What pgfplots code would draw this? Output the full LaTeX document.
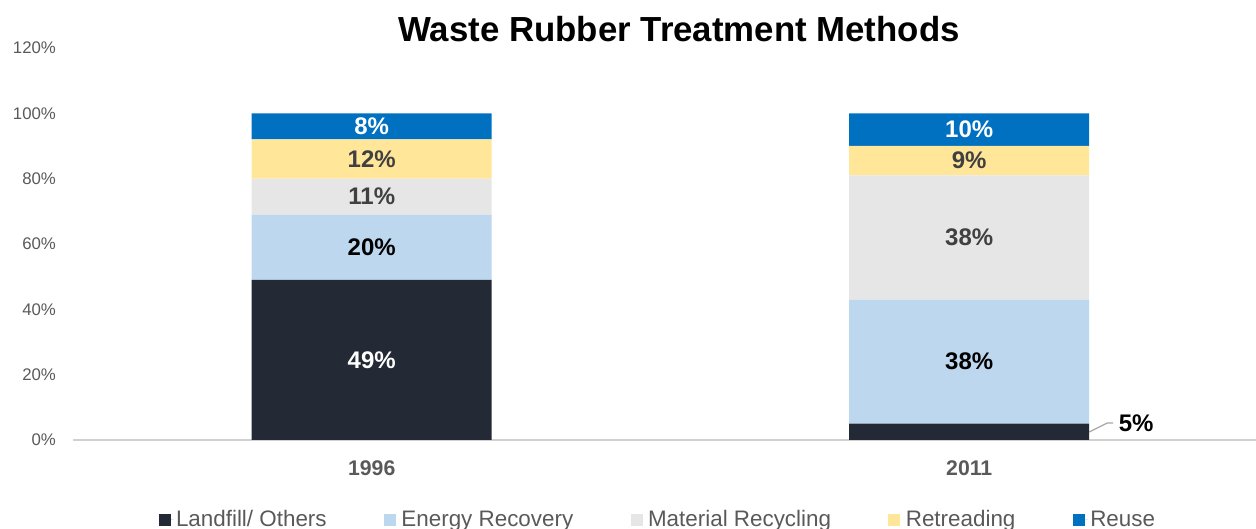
\documentclass[border=0pt]{standalone}
\usepackage{pgfplots}
\pgfplotsset{compat=1.18}
\usepackage{fontspec}
\setmainfont{Liberation Sans}
\definecolor{cLand}{HTML}{232A35}
\definecolor{cEnergy}{HTML}{BDD7EE}
\definecolor{cMat}{HTML}{E6E6E6}
\definecolor{cRet}{HTML}{FFE699}
\definecolor{cReuse}{HTML}{0070C0}
\definecolor{cTick}{HTML}{595959}
\definecolor{cDark}{HTML}{404040}
\begin{document}
\begin{tikzpicture}
\useasboundingbox (0,0) rectangle (628pt,264.5pt);
\begin{axis}[
  at={(36.5pt,44.5pt)}, anchor=south west,
  scale only axis, width=591.5pt, height=196pt,
  ybar stacked, bar width=120pt,
  xmin=-0.5, xmax=1.48, ymin=0, ymax=120,
  enlargelimits=false, clip=false,
  xtick={0,1}, xticklabels={1996,2011},
  ytick={0,20,40,60,80,100,120},
  yticklabel={\pgfmathprintnumber{\tick}\%},
  /pgf/number format/assume math mode=true,
  axis lines*=left,
  y axis line style={draw=none},
  x axis line style={draw=cMat!80!gray, line width=0.8pt},
  major tick length=0pt,
  yticklabel style={font=\fontsize{8.4}{10}\selectfont, text=cTick, xshift=-5pt},
  xticklabel style={font=\fontsize{10.6}{12}\selectfont\bfseries, text=cTick, yshift=-7pt},
  title={Waste Rubber Treatment Methods},
  title style={at={(0.5123,0.9847)}, anchor=base, font=\fontsize{17.4}{20}\selectfont\bfseries},
  point meta=explicit symbolic,
  nodes near coords={\pgfplotspointmeta},
  every node near coord/.append style={anchor=center, font=\fontsize{12}{14}\selectfont\bfseries},
  legend columns=5,
  legend style={at={(0.4945,-0.204)}, anchor=center, draw=none, fill=none,
    font=\fontsize{11.2}{13}\selectfont, text=cTick,
    nodes={inner sep=1.2pt},
    /tikz/every even column/.append style={column sep=27.5pt}},
  legend image code/.code={\fill[#1] (0pt,-3pt) rectangle (6pt,3pt); \path (0pt,0pt) -- (7.5pt,0pt);},
]
\addplot[fill=cLand, draw=none, every node near coord/.append style={text=white}]
  coordinates {(0,49) [49\%] (1,5) [\relax]};
\addplot[fill=cEnergy, draw=none, every node near coord/.append style={text=black}]
  coordinates {(0,20) [20\%] (1,38) [38\%]};
\addplot[fill=cMat, draw=none, every node near coord/.append style={text=cDark}]
  coordinates {(0,11) [11\%] (1,38) [38\%]};
\addplot[fill=cRet, draw=none, every node near coord/.append style={text=cDark}]
  coordinates {(0,12) [12\%] (1,9) [9\%]};
\addplot[fill=cReuse, draw=none, every node near coord/.append style={text=white}]
  coordinates {(0,8) [8\%] (1,10) [10\%]};
\legend{Landfill/ Others, Energy Recovery, Material Recycling, Retreading, Reuse}
\draw[gray!70, line width=0.6pt] (axis cs:1.201,2.45) -- (axis cs:1.231,5.2) -- (axis cs:1.241,5.2);
\node[anchor=west, inner sep=0pt, font=\fontsize{12}{14}\selectfont\bfseries, text=black] at (axis cs:1.2496,5.2) {5\%};
\end{axis}
\end{tikzpicture}
\end{document}
